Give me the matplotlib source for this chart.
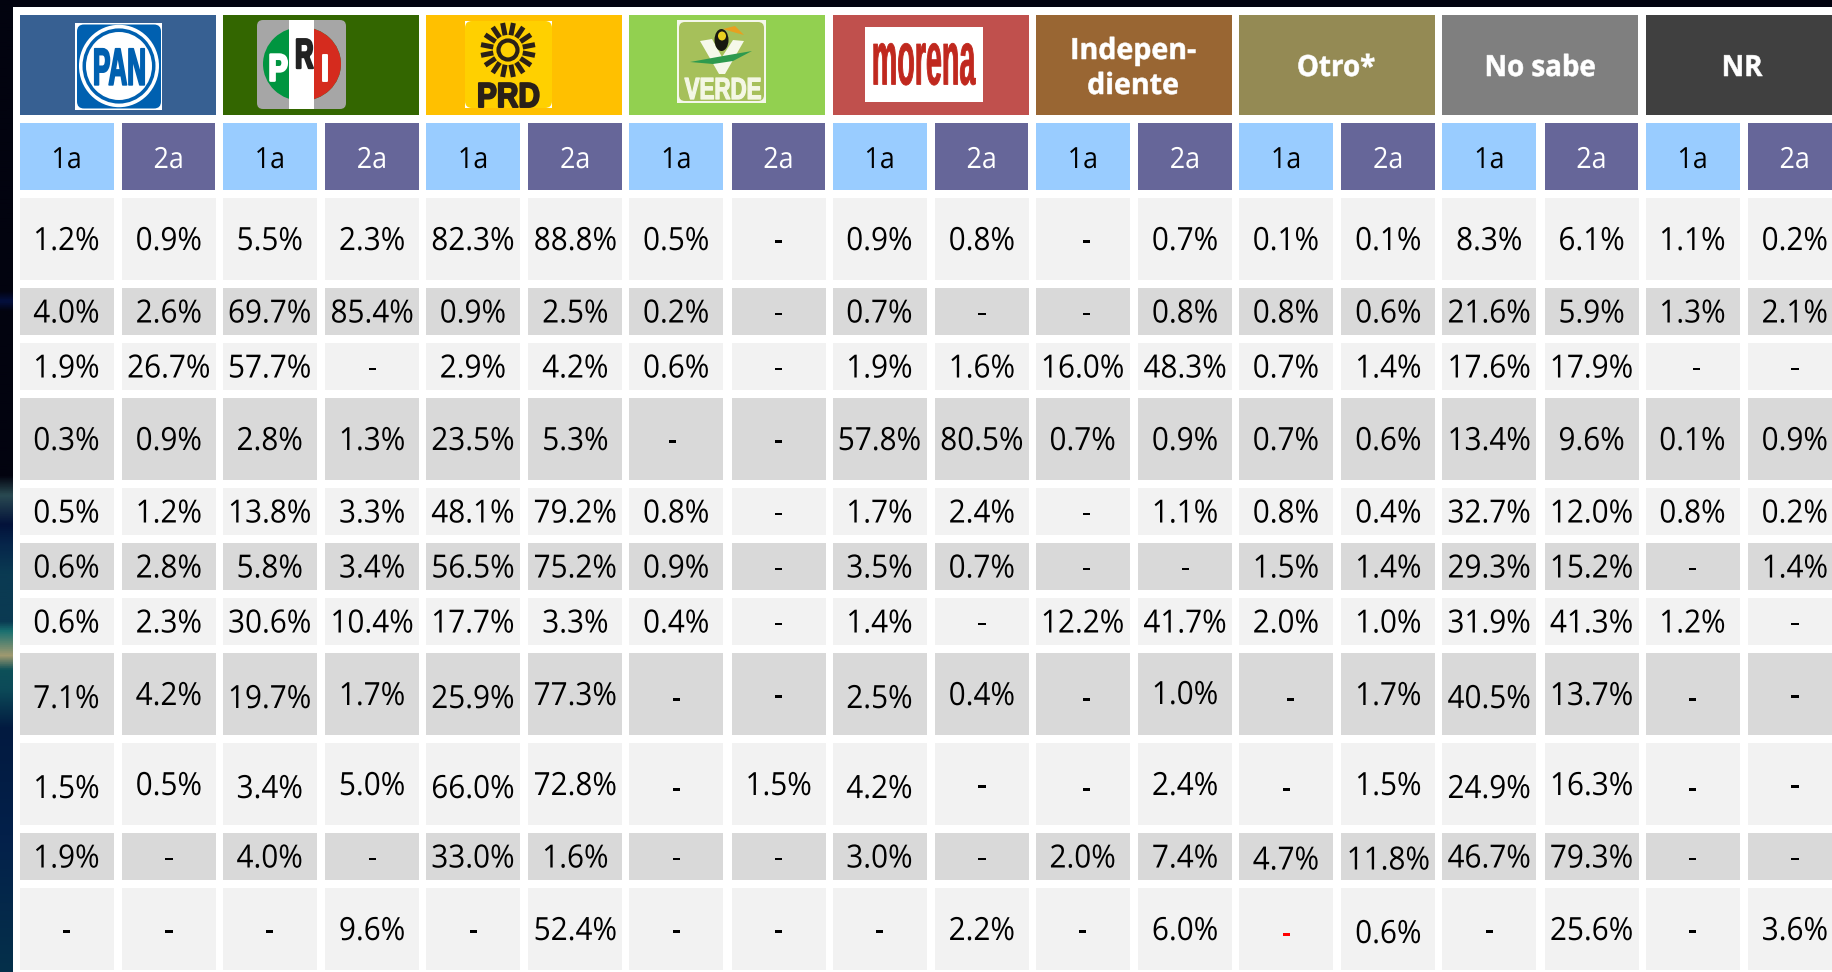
import numpy as np
import matplotlib
matplotlib.use("Agg")
import matplotlib.pyplot as plt
from matplotlib.patches import Rectangle, FancyBboxPatch, Ellipse, Polygon
from matplotlib.patheffects import AbstractPathEffect
from matplotlib.transforms import Affine2D
from matplotlib.colors import LinearSegmentedColormap

plt.rcParams["font.family"] = ["Open Sans", "DejaVu Sans"]

parties = ["PAN", "PRI", "PRD", "VERDE", "morena", "Indepen-\ndiente",
           "Otro*", "No sabe", "NR"]
party_colors = ["#376092", "#336600", "#ffc000", "#92d050", "#c0504d",
                "#996633", "#948a54", "#7f7f7f", "#404040"]
rounds = ["1a", "2a"]

row01 = ["1.2%", "0.9%", "5.5%", "2.3%", "82.3%", "88.8%", "0.5%", "-", "0.9%",
         "0.8%", "-", "0.7%", "0.1%", "0.1%", "8.3%", "6.1%", "1.1%", "0.2%"]
row02 = ["4.0%", "2.6%", "69.7%", "85.4%", "0.9%", "2.5%", "0.2%", "-", "0.7%",
         "-", "-", "0.8%", "0.8%", "0.6%", "21.6%", "5.9%", "1.3%", "2.1%"]
row03 = ["1.9%", "26.7%", "57.7%", "-", "2.9%", "4.2%", "0.6%", "-", "1.9%",
         "1.6%", "16.0%", "48.3%", "0.7%", "1.4%", "17.6%", "17.9%", "-", "-"]
row04 = ["0.3%", "0.9%", "2.8%", "1.3%", "23.5%", "5.3%", "-", "-", "57.8%",
         "80.5%", "0.7%", "0.9%", "0.7%", "0.6%", "13.4%", "9.6%", "0.1%", "0.9%"]
row05 = ["0.5%", "1.2%", "13.8%", "3.3%", "48.1%", "79.2%", "0.8%", "-", "1.7%",
         "2.4%", "-", "1.1%", "0.8%", "0.4%", "32.7%", "12.0%", "0.8%", "0.2%"]
row06 = ["0.6%", "2.8%", "5.8%", "3.4%", "56.5%", "75.2%", "0.9%", "-", "3.5%",
         "0.7%", "-", "-", "1.5%", "1.4%", "29.3%", "15.2%", "-", "1.4%"]
row07 = ["0.6%", "2.3%", "30.6%", "10.4%", "17.7%", "3.3%", "0.4%", "-", "1.4%",
         "-", "12.2%", "41.7%", "2.0%", "1.0%", "31.9%", "41.3%", "1.2%", "-"]
row08 = ["7.1%", "4.2%", "19.7%", "1.7%", "25.9%", "77.3%", "-", "-", "2.5%",
         "0.4%", "-", "1.0%", "-", "1.7%", "40.5%", "13.7%", "-", "-"]
row09 = ["1.5%", "0.5%", "3.4%", "5.0%", "66.0%", "72.8%", "-", "1.5%", "4.2%",
         "-", "-", "2.4%", "-", "1.5%", "24.9%", "16.3%", "-", "-"]
row10 = ["1.9%", "-", "4.0%", "-", "33.0%", "1.6%", "-", "-", "3.0%",
         "-", "2.0%", "7.4%", "4.7%", "11.8%", "46.7%", "79.3%", "-", "-"]
row11 = ["-", "-", "-", "9.6%", "-", "52.4%", "-", "-", "-",
         "2.2%", "-", "6.0%", "-", "0.6%", "-", "25.6%", "-", "3.6%"]
rows = [row01, row02, row03, row04, row05, row06, row07, row08, row09, row10,
        row11]

row_tops = [198, 288, 343, 398, 488, 543, 598, 653, 743, 833, 888]
row_bottoms = [280, 335, 390, 480, 535, 590, 645, 735, 825, 880, 970]
LIGHT = "#f2f2f2"
DARK = "#d9d9d9"

# the strip of the backdrop photo that shows left of the table
strip_stops = [0, 0.3, 0.31, 0.32, 0.49, 0.51, 0.54, 0.56, 0.59, 0.64, 0.65,
               0.675, 0.69, 0.71, 0.75, 0.86, 1]
strip_colors = ["#02030f", "#02030f", "#041040", "#02030f", "#02030f", "#2a4a52",
                "#03123a", "#06254a", "#0a3a52", "#0a3a52", "#1a7070",
                "#a09a70", "#0c5058", "#0c4a58", "#021a40", "#03204a", "#05304a"]


class Squeeze(AbstractPathEffect):
    """Stretches a text about its own centre, thick adds a stroke"""

    def __init__(self, sx=1.0, sy=1.0, thick=0.0):
        super().__init__()
        self.sx = sx
        self.sy = sy
        self.thick = thick

    def draw_path(self, renderer, gc, tpath, affine, rgbFace=None):
        box = affine.transform_path(tpath).get_extents()
        cx = (box.x0 + box.x1) / 2
        cy = (box.y0 + box.y1) / 2
        extra = Affine2D().translate(-cx, -cy).scale(self.sx, self.sy)
        extra = extra.translate(cx, cy)
        gc0 = renderer.new_gc()
        gc0.copy_properties(gc)
        if self.thick:
            gc0.set_linewidth(self.thick)
            gc0.set_foreground(rgbFace[:3])
        renderer.draw_path(gc0, tpath, affine + extra, rgbFace)
        gc0.restore()


def box(ax, x0, y0, x1, y1, color, z=2):
    ax.add_patch(Rectangle((x0, y0), x1 - x0, y1 - y0, facecolor=color,
                           edgecolor="none", zorder=z))


def rounded(ax, x0, y0, x1, y1, color, pad=6, z=3):
    ax.add_patch(FancyBboxPatch((x0 + pad, y0 + pad), x1 - x0 - 2 * pad,
                                y1 - y0 - 2 * pad,
                                boxstyle=f"round,pad={pad},rounding_size={pad}",
                                facecolor=color, edgecolor="none", zorder=z))


def word(ax, x, y, s, size, color="black", weight="bold", sx=1.0, sy=1.0,
         thick=0.0, z=6, family=None):
    t = ax.text(x, y, s, fontsize=size, color=color, weight=weight, ha="center",
                va="baseline", zorder=z, family=family or ["Open Sans"])
    t.set_path_effects([Squeeze(sx, sy, thick)])
    return t


def draw_pan(ax):
    box(ax, 75.5, 23, 162.5, 110, "white", 3)
    rounded(ax, 77, 24.5, 161, 108.5, "#0060b0", 7, 3)
    for rx, color in [(40, "white"), (36.5, "#0060b0"), (33, "white")]:
        ax.add_patch(Ellipse((119, 66), 2 * rx, 2 * rx * 1.03, facecolor=color,
                             edgecolor="none", zorder=4))
    word(ax, 119.5, 84, "PAN", 36, "#0060b0", sx=0.52, sy=1.05, thick=1.2,
         family=["Liberation Sans"])


def draw_pri(ax):
    rounded(ax, 257, 20, 346, 109, "#a6a6a6", 6, 3)
    ax.add_patch(Ellipse((302, 64), 78, 74, facecolor="#009540",
                         edgecolor="none", zorder=4))
    red = Ellipse((302, 64), 78, 74, facecolor="#d52b1e", edgecolor="none",
                  zorder=4)
    ax.add_patch(red)
    clip = Rectangle((302, 20), 60, 90, transform=ax.transData)
    red.set_clip_path(clip)
    box(ax, 289, 20, 314, 109, "white", 4)
    word(ax, 278, 80, "P", 26, "white", sx=0.8, sy=1.05, thick=1.8,
         family=["Liberation Sans"])
    word(ax, 304, 67, "R", 28, "#222222", sx=0.65, sy=1.08, thick=1.6,
         family=["Liberation Sans"])
    word(ax, 325, 80, "I", 26, "white", sx=0.95, sy=1.05, thick=1.4,
         family=["Liberation Sans"])


def draw_prd(ax):
    box(ax, 465, 21, 552, 108, "white", 3)
    rounded(ax, 465, 21, 552, 108, "#ffd000", 7, 3)
    cx, cy = 508, 50
    for a in np.arange(0, 360, 22.5):
        ca, sa = np.cos(np.radians(a + 11.25)), np.sin(np.radians(a + 11.25))
        ax.plot([cx + 15 * ca, cx + 27.5 * ca], [cy + 15 * sa, cy + 27.5 * sa],
                color="#2a2018", lw=3.6, solid_capstyle="butt", zorder=4)
    ax.add_patch(Ellipse((cx, cy), 19, 19, facecolor="none", edgecolor="#2a2018",
                         lw=3, zorder=4))
    word(ax, 508.5, 107, "PRD", 25, "#2a2018", sx=0.86, sy=1.0, thick=1.4,
         family=["Liberation Sans"])


def draw_verde(ax):
    box(ax, 677, 20, 766, 103, "#f4f7ea", 3)
    rounded(ax, 679, 22, 764, 101, "#a6c05a", 6, 3)
    ax.add_patch(Polygon([(700, 41), (712, 39), (722, 57), (733, 40), (744, 41),
                          (725, 74), (719, 74)], facecolor="#f6f8ea",
                         edgecolor="none", zorder=4))
    ax.add_patch(Polygon([(690, 62), (723, 56), (752, 51), (733, 61), (713, 64)],
                         facecolor="#2e9a4e", edgecolor="none", zorder=5))
    ax.add_patch(Ellipse((721.5, 40), 14, 22, facecolor="#181810",
                         edgecolor="none", zorder=5))
    ax.add_patch(Polygon([(723, 29), (735, 26), (744, 35), (733, 32)],
                         facecolor="#e8a020", edgecolor="none", zorder=6))
    ax.add_patch(Ellipse((722, 36), 8, 9, facecolor="#e8d020", edgecolor="none",
                         zorder=6))
    word(ax, 723, 99, "VERDE", 22, "#f4f7e4", sx=0.73, sy=1.0, thick=0.9,
         family=["Liberation Sans"])


def draw_morena(ax):
    box(ax, 865, 27, 983, 102, "white", 3)
    word(ax, 922.5, 80, "morena", 43, "#c0281e", sx=0.48, sy=1.28, thick=0.6,
         family=["Liberation Sans"])


def main():
    fig = plt.figure(figsize=(18.33, 9.72), dpi=100)
    ax = fig.add_axes([0, 0, 1, 1])
    ax.set_xlim(0, 1833)
    ax.set_ylim(972, 0)
    ax.axis("off")

    strip = LinearSegmentedColormap.from_list(
        "strip", list(zip(strip_stops, strip_colors)), N=512)
    ax.imshow(np.linspace(0, 1, 512).reshape(-1, 1), cmap=strip, aspect="auto",
              extent=(0, 1833, 972, 0), zorder=0)
    box(ax, 13, 0, 1833, 7, "#02030f", 1)
    box(ax, 13, 7, 1833, 972, "white", 1)

    step = 203.25
    for k, color in enumerate(party_colors):
        left = 19.6 + k * step
        box(ax, left, 15, left + 196, 115, color)
        for r, name in enumerate(rounds):
            x0 = left + r * 102.4
            x1 = x0 + 94 - (0.6 if r else 0)
            box(ax, x0, 123, x1, 190, "#99ccff" if r == 0 else "#666699")
            ax.text((x0 + x1) / 2, 168, name, fontsize=21, ha="center",
                    va="baseline", color="black" if r == 0 else "white", zorder=5,
                    path_effects=[Squeeze(0.92, 1.0)])

    draw_pan(ax)
    draw_pri(ax)
    draw_prd(ax)
    draw_verde(ax)
    draw_morena(ax)
    word(ax, 1133, 59, "Indepen-", 21, "white", sx=0.98, thick=0.4)
    word(ax, 1133, 94, "diente", 21, "white", sx=0.98, thick=0.4)
    word(ax, 1336, 76, "Otro*", 21, "white", sx=0.95, thick=0.4)
    word(ax, 1540, 76, "No sabe", 21, "white", sx=0.95, thick=0.4)
    word(ax, 1742, 76, "NR", 21, "white", sx=0.95, thick=0.4)

    # cells the source image pushed a little off centre
    nudges_y = {}
    for col in range(0, 18, 2):
        nudges_y[(7, col)] = 3
        nudges_y[(8, col)] = 3
    nudges_y.update({(7, 11): -1, (9, 12): 2, (9, 13): 2, (10, 12): 3, (10, 13): 3})
    nudges_x = {(0, 10): 4, (1, 10): 4, (4, 10): 4, (5, 10): 4, (7, 10): 4,
                (8, 10): 4, (3, 6): -4, (7, 12): 4, (2, 16): 4}

    for i, row in enumerate(rows):
        shade = LIGHT if i in (0, 2, 4, 6, 8, 10) else DARK
        cy = (row_tops[i] + row_bottoms[i]) / 2
        for j, label in enumerate(row):
            left = 19.6 + (j // 2) * step + (j % 2) * 102.4
            box(ax, left, row_tops[i], left + 94, row_bottoms[i], shade)
            color = "red" if (i, j) == (10, 12) else "black"
            x = left + 47 + nudges_x.get((i, j), 0)
            y = cy + 11 + nudges_y.get((i, j), 0)
            ax.text(x, y, label, fontsize=23, ha="center", va="baseline",
                    color=color, zorder=5, path_effects=[Squeeze(0.93, 1.0)])

    fig.savefig("out.png", dpi=100)


if __name__ == "__main__":
    main()
